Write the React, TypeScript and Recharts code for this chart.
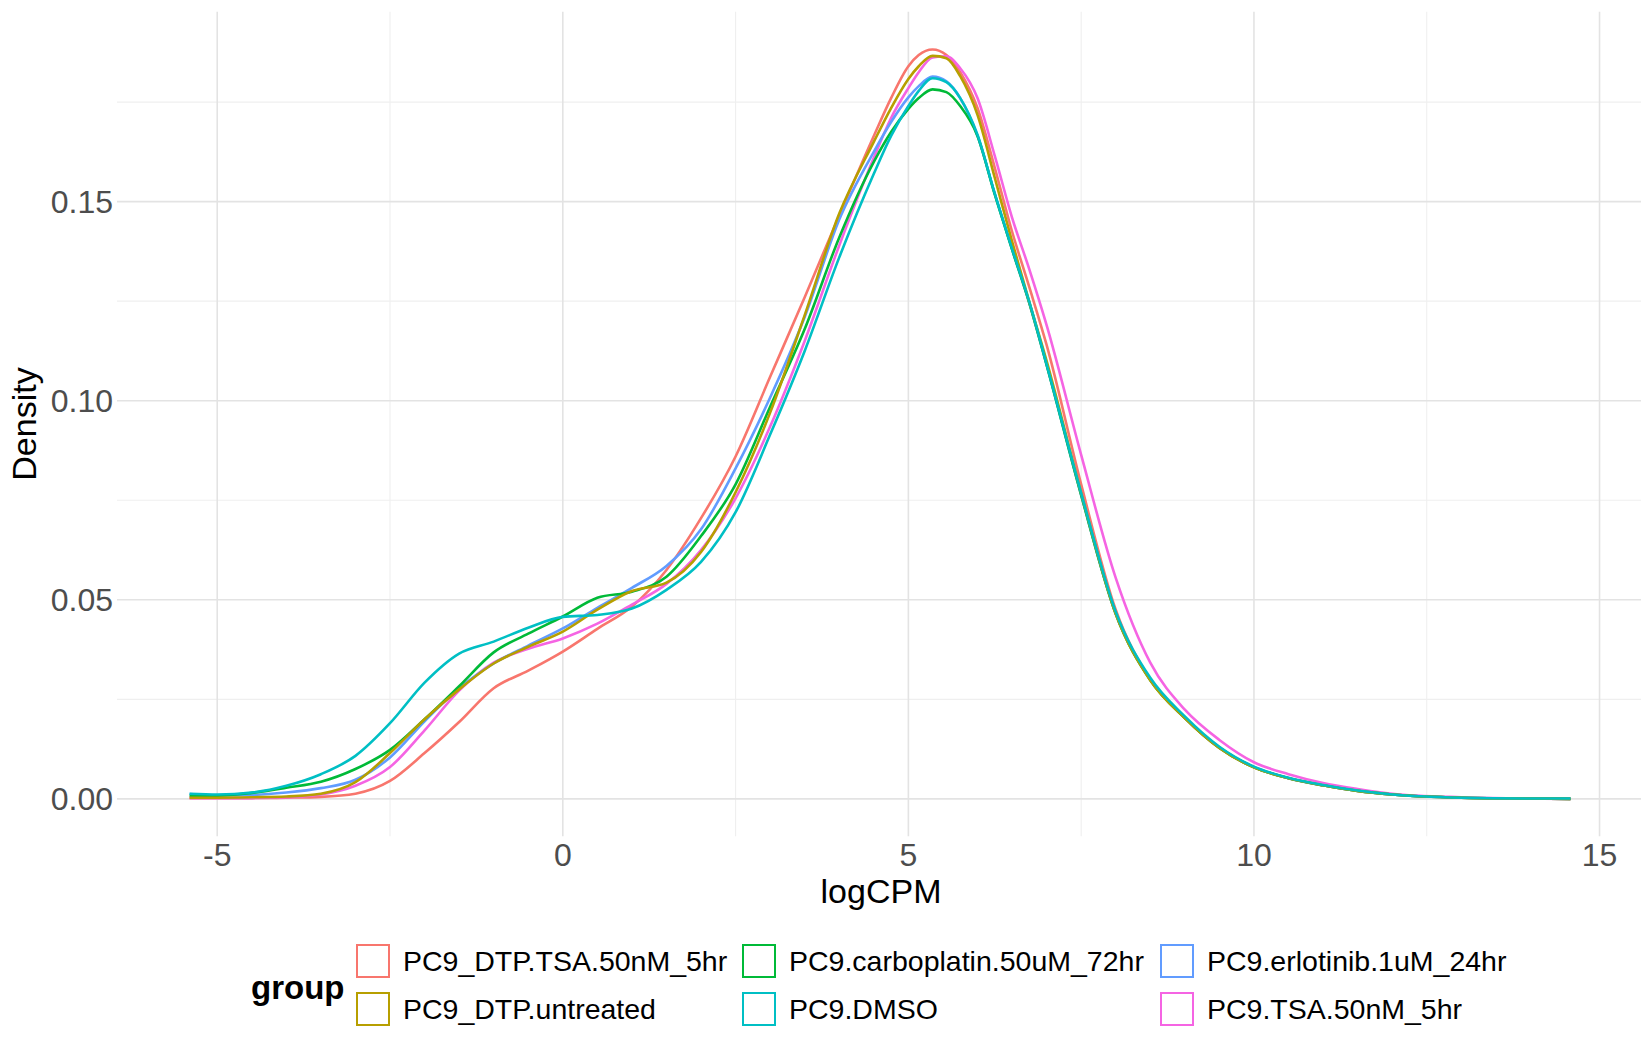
import React from 'react';
import { LineChart, Line, XAxis, YAxis, ReferenceLine } from 'recharts';

const xValues = [-5.4, -5, -4.5, -4, -3.5, -3, -2.5, -2, -1.5, -1, -0.5, 0, 0.5, 1, 1.5, 2, 2.5, 3, 3.5, 4, 4.5, 4.75, 5, 5.15, 5.35, 5.55, 5.75, 6, 6.25, 6.5, 6.75, 7, 7.5, 8, 8.5, 9, 9.5, 10, 10.5, 11, 11.5, 12, 13, 14, 14.58];

const seriesNames = ['PC9_DTP.TSA.50nM_5hr', 'PC9_DTP.untreated', 'PC9.carboplatin.50uM_72hr', 'PC9.DMSO', 'PC9.erlotinib.1uM_24hr', 'PC9.TSA.50nM_5hr'];
const seriesColors = ['#F8766D', '#B79F00', '#00BA38', '#00BFC4', '#619CFF', '#F564E3'];

const dtpTsa = [0.0002, 0.0002, 0.0002, 0.0003, 0.0005, 0.0013, 0.0045, 0.0115, 0.0193, 0.0278, 0.0322, 0.0370, 0.0427, 0.0483, 0.0575, 0.0705, 0.0860, 0.1060, 0.1260, 0.1465, 0.1665, 0.1760, 0.1840, 0.1868, 0.1882, 0.1868, 0.1825, 0.1735, 0.1585, 0.1425, 0.1285, 0.1140, 0.0790, 0.0475, 0.0300, 0.0203, 0.0128, 0.0079, 0.0052, 0.0034, 0.0020, 0.0011, 0.0003, 0.0001, 0.0000];
const dtpUntreated = [0.0003, 0.0003, 0.0004, 0.0006, 0.0013, 0.0042, 0.0115, 0.0200, 0.0275, 0.0340, 0.0382, 0.0420, 0.0475, 0.0522, 0.0543, 0.0620, 0.0770, 0.0970, 0.1215, 0.1470, 0.1650, 0.1735, 0.1808, 0.1840, 0.1866, 0.1860, 0.1815, 0.1718, 0.1560, 0.1400, 0.1248, 0.1100, 0.0768, 0.0465, 0.0298, 0.0203, 0.0128, 0.0079, 0.0052, 0.0034, 0.0020, 0.0011, 0.0003, 0.0001, 0.0000];
const carboplatin = [0.0008, 0.0008, 0.0015, 0.0028, 0.0043, 0.0075, 0.0123, 0.0200, 0.0283, 0.0368, 0.0415, 0.0458, 0.0505, 0.0520, 0.0558, 0.0660, 0.0790, 0.0985, 0.1180, 0.1410, 0.1600, 0.1675, 0.1733, 0.1760, 0.1782, 0.1775, 0.1740, 0.1665, 0.1518, 0.1380, 0.1245, 0.1090, 0.0763, 0.0465, 0.0298, 0.0203, 0.0128, 0.0079, 0.0052, 0.0034, 0.0020, 0.0011, 0.0003, 0.0001, 0.0000];
const dmso = [0.0013, 0.0011, 0.0016, 0.0033, 0.0062, 0.0108, 0.0190, 0.0292, 0.0365, 0.0395, 0.0430, 0.0457, 0.0462, 0.0478, 0.0525, 0.0595, 0.0720, 0.0915, 0.1125, 0.1360, 0.1570, 0.1665, 0.1740, 0.1778, 0.1810, 0.1800, 0.1760, 0.1668, 0.1520, 0.1382, 0.1248, 0.1092, 0.0768, 0.0470, 0.0304, 0.0207, 0.0131, 0.0081, 0.0053, 0.0035, 0.0021, 0.0011, 0.0003, 0.0001, 0.0001];
const erlotinib = [0.0012, 0.0009, 0.0010, 0.0016, 0.0027, 0.0048, 0.0104, 0.0195, 0.0278, 0.0340, 0.0385, 0.0428, 0.0480, 0.0530, 0.0585, 0.0677, 0.0830, 0.1008, 0.1210, 0.1455, 0.1625, 0.1700, 0.1762, 0.1790, 0.1814, 0.1802, 0.1760, 0.1665, 0.1520, 0.1380, 0.1245, 0.1090, 0.0763, 0.0465, 0.0300, 0.0204, 0.0129, 0.0080, 0.0052, 0.0034, 0.0020, 0.0011, 0.0003, 0.0001, 0.0000];
const tsa = [0.0002, 0.0002, 0.0002, 0.0004, 0.0011, 0.0033, 0.0080, 0.0172, 0.0272, 0.0342, 0.0377, 0.0403, 0.0440, 0.0488, 0.0540, 0.0625, 0.0755, 0.0935, 0.1150, 0.1390, 0.1610, 0.1710, 0.1785, 0.1825, 0.1862, 0.1865, 0.1835, 0.1760, 0.1615, 0.1460, 0.1330, 0.1190, 0.0864, 0.0555, 0.0342, 0.0224, 0.0148, 0.0092, 0.0062, 0.0040, 0.0025, 0.0013, 0.0004, 0.0001, 0.0000];

const seriesValues = [dtpTsa, dtpUntreated, carboplatin, dmso, erlotinib, tsa];

const xTicks = [-5, 0, 5, 10, 15];
const xMinorTicks = [-2.5, 2.5, 7.5, 12.5];
const yTicks = [0, 0.05, 0.1, 0.15];
const yMinorTicks = [0.025, 0.075, 0.125, 0.175];

const xTitle = 'logCPM';
const yTitle = 'Density';
const legendTitle = 'group';

// drawing order (index into series)
const drawOrder = [0, 5, 4, 2, 1, 3];
// legend layout: column-wise, 2 rows
const legendOrder = [[0, 1], [2, 3], [4, 5]];

const rows = xValues.map((x, i) => {
  const r: Record<string, number> = { x };
  seriesValues.forEach((s, k) => {
    r['s' + k] = s[i];
  });
  return r;
});

const FONT = '"Liberation Sans", Arial, Helvetica, sans-serif';

const XTick = (props: any) => (
  <text
    x={props.x}
    y={props.y + 19}
    textAnchor="middle"
    dominantBaseline="central"
    fill="#4D4D4D"
    fontSize={32}
    fontFamily={FONT}
  >
    {props.payload.value}
  </text>
);

const YTick = (props: any) => (
  <text
    x={props.x - 4}
    y={props.y}
    textAnchor="end"
    dominantBaseline="central"
    fill="#4D4D4D"
    fontSize={32}
    fontFamily={FONT}
  >
    {Number(props.payload.value).toFixed(2)}
  </text>
);

const legendCols = [
  { keyX: 356, textX: 403 },
  { keyX: 742, textX: 789 },
  { keyX: 1160, textX: 1207 },
];
const legendRowsY = [961, 1009];

export default function App() {
  return (
    <div style={{ position: 'absolute', left: 0, top: 0, width: 1650, height: 1050, background: '#fff' }}>
      <LineChart
        width={1650}
        height={1050}
        data={rows}
        margin={{ top: 11.7, right: 9, left: 0, bottom: 113.7 }}
      >
        <XAxis
          dataKey="x"
          type="number"
          domain={[-6.45, 15.6]}
          ticks={xTicks}
          interval={0}
          allowDataOverflow
          axisLine={false}
          tickLine={false}
          tickSize={0}
          tickMargin={0}
          height={100}
          tick={<XTick />}
        />
        <YAxis
          type="number"
          domain={[-0.0094, 0.1977]}
          ticks={yTicks}
          interval={0}
          allowDataOverflow
          axisLine={false}
          tickLine={false}
          tickSize={0}
          tickMargin={0}
          width={117}
          tick={<YTick />}
        />
        {xMinorTicks.map((v) => (
          <ReferenceLine key={'xm' + v} x={v} stroke="#EFEFEF" strokeWidth={1.1} />
        ))}
        {yMinorTicks.map((v) => (
          <ReferenceLine key={'ym' + v} y={v} stroke="#EFEFEF" strokeWidth={1.1} />
        ))}
        {xTicks.map((v) => (
          <ReferenceLine key={'xM' + v} x={v} stroke="#E3E3E3" strokeWidth={1.6} />
        ))}
        {yTicks.map((v) => (
          <ReferenceLine key={'yM' + v} y={v} stroke="#E3E3E3" strokeWidth={1.6} />
        ))}
        {drawOrder.map((k) => (
          <Line
            key={'s' + k}
            dataKey={'s' + k}
            type="monotone"
            stroke={seriesColors[k]}
            strokeWidth={2.6}
            dot={false}
            activeDot={false}
            isAnimationActive={false}
          />
        ))}
      </LineChart>
      <svg
        width={1650}
        height={1050}
        style={{ position: 'absolute', left: 0, top: 0, pointerEvents: 'none' }}
        fontFamily={FONT}
      >
        <text x={881} y={891} textAnchor="middle" dominantBaseline="central" fontSize={34} fill="#000">
          {xTitle}
        </text>
        <text
          x={24}
          y={424}
          textAnchor="middle"
          dominantBaseline="central"
          fontSize={34}
          fill="#000"
          transform="rotate(-90 24 424)"
        >
          {yTitle}
        </text>
        <text x={251} y={987} dominantBaseline="central" fontSize={33} fontWeight="bold" fill="#000">
          {legendTitle}
        </text>
        {legendOrder.map((col, c) =>
          col.map((k, r) => (
            <g key={'lg' + k}>
              <rect
                x={legendCols[c].keyX + 1}
                y={legendRowsY[r] - 16}
                width={32}
                height={32}
                fill="#fff"
                stroke={seriesColors[k]}
                strokeWidth={2}
              />
              <text
                x={legendCols[c].textX}
                y={legendRowsY[r]}
                dominantBaseline="central"
                fontSize={28.5}
                fill="#000"
              >
                {seriesNames[k]}
              </text>
            </g>
          ))
        )}
      </svg>
    </div>
  );
}
